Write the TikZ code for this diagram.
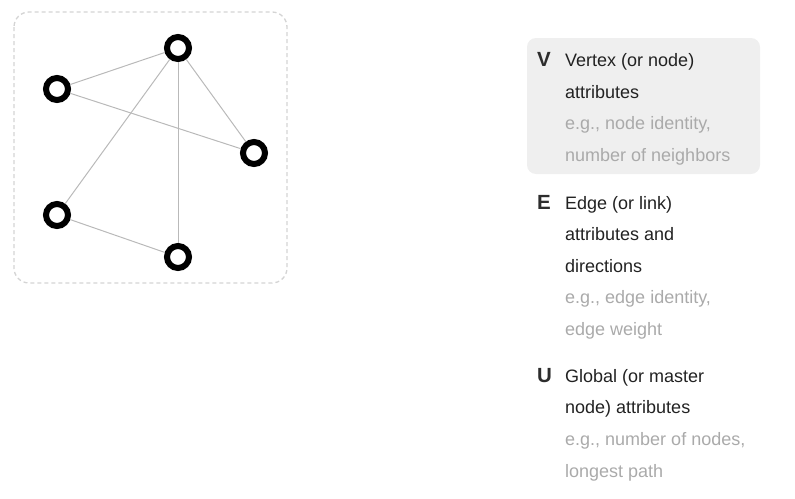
\documentclass[tikz,border=0pt]{standalone}
\usepackage{fontspec}
\setmainfont{Liberation Sans}
\definecolor{framegray}{RGB}{212,212,212}
\definecolor{linkgray}{RGB}{185,185,185}
\definecolor{panelgray}{RGB}{239,239,239}
\definecolor{textdark}{RGB}{34,34,34}
\definecolor{textlight}{RGB}{170,170,170}
\definecolor{letterdark}{RGB}{45,45,45}
\begin{document}
\begin{tikzpicture}[x=1pt,y=-1pt,
    vertex/.style={circle,draw=black,line width=6pt,fill=white,minimum size=22pt,inner sep=0pt},
    link/.style={draw=linkgray,line width=1pt},
    letter/.style={anchor=base west,inner sep=0pt,text=letterdark,font=\bfseries\fontsize{20.5}{22}\selectfont},
    main/.style={anchor=base west,inner sep=0pt,text=textdark,font=\fontsize{18}{22}\selectfont},
    example/.style={main,text=textlight}]
    \useasboundingbox (0,0) rectangle (795,498);

    % Dashed frame round the graph
    \draw[framegray,line width=1.3pt,dash pattern=on 4pt off 3pt,rounded corners=15pt]
      (14,12) rectangle (287,283);

    % Vertices
    \node[vertex] (top) at (178,48) {};
    \node[vertex] (left) at (57,89) {};
    \node[vertex] (right) at (254,153) {};
    \node[vertex] (low) at (57,215) {};
    \node[vertex] (bottom) at (178,257) {};

    % Edges
    \draw[link] (top) -- (left);
    \draw[link] (top) -- (right);
    \draw[link] (top) -- (low);
    \draw[link] (top) -- (bottom);
    \draw[link] (left) -- (right);
    \draw[link] (low) -- (bottom);

    % Highlighted panel behind the V entry
    \fill[panelgray,rounded corners=9pt] (527,38) rectangle (760,174);

    % V entry
    \node[letter] (vkey) at (537,66.7) {V};
    \node[main] (vline1) at (565,66.7) {Vertex (or node)};
    \node[main] (vline2) at (565,98.3) {attributes};
    \node[example] (vline3) at (565,129.9) {e.g., node identity,};
    \node[example] (vline4) at (565,161.5) {number of neighbors};

    % E entry
    \node[letter] (ekey) at (537,209) {E};
    \node[main] (eline1) at (565,209) {Edge (or link)};
    \node[main] (eline2) at (565,240.6) {attributes and};
    \node[main] (eline3) at (565,272.2) {directions};
    \node[example] (eline4) at (565,303.8) {e.g., edge identity,};
    \node[example] (eline5) at (565,335.4) {edge weight};

    % U entry
    \node[letter] (ukey) at (537,382.3) {U};
    \node[main] (uline1) at (565,382.3) {Global (or master};
    \node[main] (uline2) at (565,413.9) {node) attributes};
    \node[example] (uline3) at (565,445.5) {e.g., number of nodes,};
    \node[example] (uline4) at (565,477.1) {longest path};
\end{tikzpicture}
\end{document}
